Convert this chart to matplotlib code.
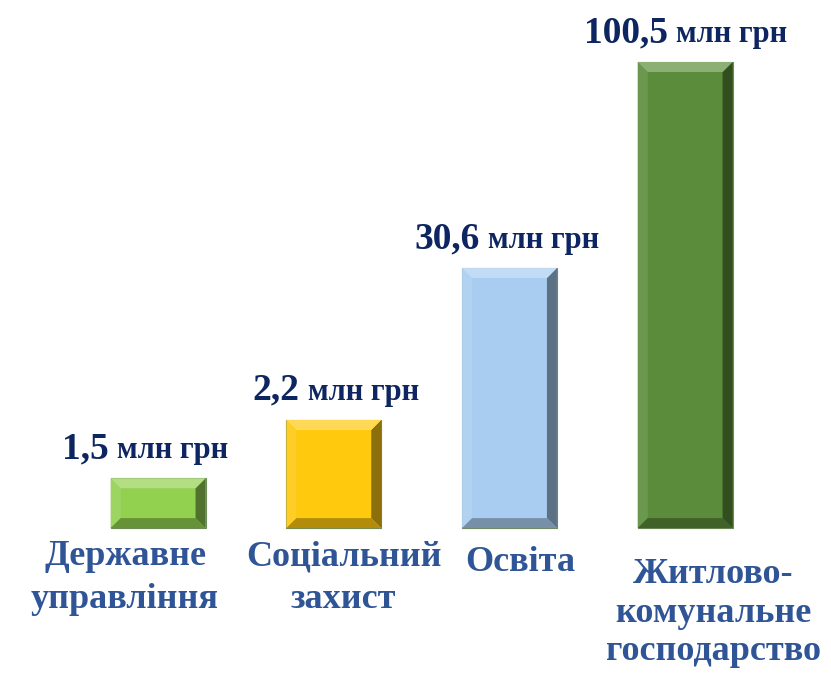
import matplotlib.pyplot as plt
from matplotlib.patches import Polygon
import matplotlib.colors as mcolors

# Дані (висоти стовпців на слайді не в масштабі значень)
categories = ['Державне\nуправління', 'Соціальний\nзахист', 'Освіта',
              'Житлово-\nкомунальне\nгосподарство']
values = ['1,5', '2,2', '30,6', '100,5']
unit = 'млн грн'
bar_heights = [10.7, 23.2, 55.8, 100.0]
bar_colors = ['#92d050', '#ffc90e', '#a9cdf0', '#5b8c3b']

plt.rcParams['font.family'] = ['Liberation Serif', 'DejaVu Serif']

fig = plt.figure(figsize=(8.31, 6.74), dpi=100)
ax = fig.add_axes([0, 0, 1, 1])
ax.set_xlim(-0.9, 3.83)
ax.set_ylim(-31.3, 113.3)
ax.axis('off')

x = list(range(len(categories)))
bars = ax.bar(x, bar_heights, width=0.54, color=bar_colors,
              edgecolor='#6f8a5a', linewidth=0.8, zorder=2)


def shade(c, f):
    r, g, b = mcolors.to_rgb(c)
    if f > 0:
        return (r + (1 - r) * f, g + (1 - g) * f, b + (1 - b) * f)
    return (r * (1 + f), g * (1 + f), b * (1 + f))


# фаска по краях стовпців
bx = 10 / 175.7
by = 10 / 4.66
for rect, c in zip(bars, bar_colors):
    x0, y0 = rect.get_x(), rect.get_y()
    x1, y1 = x0 + rect.get_width(), y0 + rect.get_height()
    top = [(x0, y1), (x1, y1), (x1 - bx, y1 - by), (x0 + bx, y1 - by)]
    bot = [(x0, y0), (x1, y0), (x1 - bx, y0 + by), (x0 + bx, y0 + by)]
    left = [(x0, y0), (x0, y1), (x0 + bx, y1 - by), (x0 + bx, y0 + by)]
    right = [(x1, y0), (x1, y1), (x1 - bx, y1 - by), (x1 - bx, y0 + by)]
    for pts, f in [(left, 0.1), (right, -0.45), (bot, -0.3), (top, 0.3)]:
        ax.add_patch(Polygon(pts, closed=True, facecolor=shade(c, f),
                             edgecolor='none', zorder=3))

# підписи значень над стовпцями
fig.canvas.draw()
r = fig.canvas.get_renderer()
value_dx = [-13, 2, -3, 0]
for xi, h, v, vdx in zip(x, bar_heights, values, value_dx):
    t1 = ax.annotate(v, (xi, h), xytext=(0, 20), textcoords='offset pixels',
                     ha='left', va='baseline', fontsize=27, fontweight='bold',
                     color='#0d2560', zorder=4)
    t2 = ax.annotate(unit, (xi, h), xytext=(0, 20), textcoords='offset pixels',
                     ha='left', va='baseline', fontsize=22, fontweight='bold',
                     color='#0d2560', zorder=4)
    w1 = t1.get_window_extent(r).width
    w2 = t2.get_window_extent(r).width
    gap = 8
    start = vdx - (w1 + gap + w2) / 2
    t1.set_position((start, 20))
    t2.set_position((start + w1 + gap, 20))

# назви категорій під стовпцями
label_dx = [-33, 10, 11, 28]
label_dy = [-12, -12, -18, -30]
label_ls = [1.38, 1.38, 1.38, 1.22]
for xi, cat, dx, dy, ls in zip(x, categories, label_dx, label_dy, label_ls):
    ax.annotate(cat, (xi, 0), xytext=(dx, dy), textcoords='offset pixels',
                ha='center', va='top', fontsize=26, fontweight='bold',
                color='#2f5597', linespacing=ls, zorder=4)

fig.savefig('out.png', dpi=100)
